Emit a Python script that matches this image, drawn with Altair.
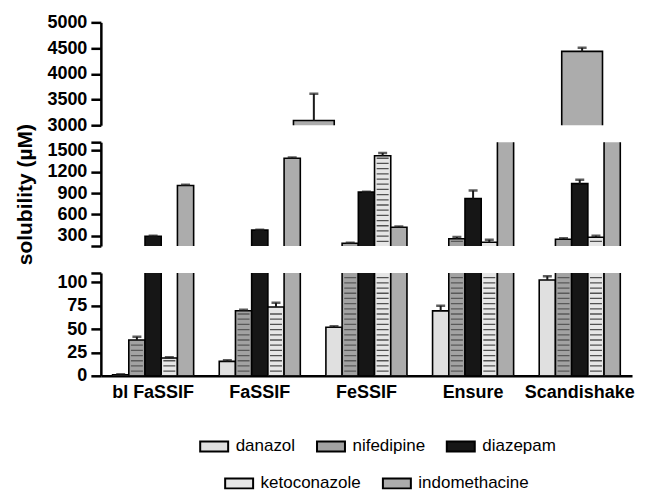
import altair as alt
import pandas as pd

media = ["bl FaSSIF", "FaSSIF", "FeSSIF", "Ensure", "Scandishake"]
drugs = ["danazol", "nifedipine", "diazepam", "ketoconazole", "indomethacine"]

danazol = [1.0, 15.4, 52.0, 69.5, 102.5]
danazol_err = [0.6, 1.2, 1.0, 5.5, 4.0]
nifedipine = [38.3, 69.6, 194.0, 258.0, 250.0]
nifedipine_err = [3.5, 1.0, 6.0, 22.0, 14.0]
diazepam = [292.0, 378.0, 912.0, 822.0, 1032.0]
diazepam_err = [6.0, 6.0, 6.0, 112.0, 55.0]
ketoconazole = [19.0, 73.6, 1424.0, 208.0, 278.0]
ketoconazole_err = [0.8, 4.5, 38.0, 34.0, 20.0]
indomethacine = [1005.0, 1388.0, 418.0, 3090.0, 4435.0]
indomethacine_err = [12.0, 12.0, 12.0, 520.0, 72.0]

fills = ["#e0e0e0", "#a2a2a2", "#161616", "#e6e6e6", "#acacac"]

series = {
    "danazol": (danazol, danazol_err),
    "nifedipine": (nifedipine, nifedipine_err),
    "diazepam": (diazepam, diazepam_err),
    "ketoconazole": (ketoconazole, ketoconazole_err),
    "indomethacine": (indomethacine, indomethacine_err),
}

rows = []
for d in drugs:
    vals, errs = series[d]
    for m, v, e in zip(media, vals, errs):
        rows.append({"medium": m, "drug": d, "value": v, "err": e})
df = pd.DataFrame(rows)

WIDTH = 532
STRIPE_PX = 5.2
FONT = "Liberation Sans"

sym_plain = "M-2.8,-1H2.8V1H-2.8Z"
leg_common = dict(
    title=None, orient="none", direction="horizontal", symbolSize=100,
    symbolType=sym_plain, symbolStrokeColor="black", symbolStrokeWidth=2,
    labelFontSize=17, labelFont=FONT, labelColor="black", labelOffset=13,
    columnPadding=17, symbolOpacity=1,
)


def panel(lo, hi, height, ticks, hidden, show_x=False, title=None, base=0.0, legends=False):
    yscale = alt.Scale(domain=[lo, hi], zero=False, nice=False)
    if hidden:
        label_expr = " || ".join(f"datum.value == {h}" for h in hidden) + " ? '' : datum.label"
    else:
        label_expr = "datum.label"
    yaxis = alt.Axis(values=ticks, labelExpr=label_expr, title=title, tickSize=10, format="d",
                     labelPadding=4, titlePadding=11, titleFontSize=21,
                     titleFontWeight="bold", titleColor="black", titleFont=FONT)
    if show_x:
        xaxis = alt.Axis(title=None, labelAngle=0, ticks=False, labelPadding=8)
    else:
        xaxis = None
    x = alt.X("medium:N", sort=media,
              scale=alt.Scale(paddingInner=0.24, paddingOuter=0.11), axis=xaxis)
    xo = alt.XOffset("drug:N", sort=drugs, scale=alt.Scale(domain=drugs))

    src = alt.Chart(df).transform_filter(f"datum.value > {lo}")
    bar_kw = dict(clip=True, stroke="black", strokeWidth=1.6)

    layers = []
    if legends:
        first = drugs[:3]
        second = drugs[3:]
        bars1 = src.transform_filter(
            alt.FieldOneOfPredicate(field="drug", oneOf=first)
        ).transform_calculate(base=str(base)).mark_bar(**bar_kw).encode(
            x=x, xOffset=xo,
            y=alt.Y("value:Q", scale=yscale, axis=yaxis), y2="base:Q",
            fill=alt.Fill("drug:N", sort=first,
                          scale=alt.Scale(domain=first, range=fills[:3]),
                          legend=alt.Legend(values=first, legendX=105, legendY=165, **leg_common)),
        )
        bars2 = src.transform_filter(
            alt.FieldOneOfPredicate(field="drug", oneOf=second)
        ).transform_calculate(base=str(base), drug2="datum.drug").mark_bar(**bar_kw).encode(
            x=x, xOffset=xo,
            y=alt.Y("value:Q", scale=yscale, axis=yaxis), y2="base:Q",
            color=alt.Color("drug2:N", sort=second,
                            scale=alt.Scale(domain=second, range=fills[3:]),
                            legend=alt.Legend(values=second, legendX=130, legendY=202, **leg_common)),
        )
        layers += [bars1, bars2]
    else:
        bars = src.transform_calculate(base=str(base)).mark_bar(**bar_kw).encode(
            x=x, xOffset=xo,
            y=alt.Y("value:Q", scale=yscale, axis=yaxis), y2="base:Q",
            fill=alt.Fill("drug:N", scale=alt.Scale(domain=drugs, range=fills), legend=None),
        )
        layers.append(bars)

    step = (hi - lo) / height * STRIPE_PX
    stripes = src.transform_filter(
        alt.FieldOneOfPredicate(field="drug", oneOf=["nifedipine", "ketoconazole"])
    ).transform_calculate(
        s=f"sequence({lo} + {step * 0.9}, min(datum.value, {hi}) - {step * 0.45}, {step})"
    ).transform_flatten(["s"]).mark_tick(clip=True, size=12, thickness=1.3).encode(
        x=x, xOffset=xo,
        y=alt.Y("s:Q", scale=yscale, axis=yaxis),
        color=alt.condition("datum.drug == 'nifedipine'", alt.value("#3a3a3a"), alt.value("#111111")),
    )
    layers.append(stripes)

    err = src.transform_calculate(upper="datum.value + datum.err")
    rule = err.mark_rule(clip=True, strokeWidth=2, color="#1a1a1a").encode(
        x=x, xOffset=xo,
        y=alt.Y("value:Q", scale=yscale, axis=yaxis), y2="upper:Q",
    )
    cap = err.mark_tick(clip=True, size=9, thickness=2.5, color="#1a1a1a").encode(
        x=x, xOffset=xo,
        y=alt.Y("upper:Q", scale=yscale, axis=yaxis),
    )
    layers += [rule, cap]
    return alt.layer(*layers).properties(width=WIDTH, height=height)


top = panel(3000, 5000, 103, [3000, 3500, 4000, 4500, 5000], [], base=2800)
mid = panel(155, 1615, 104, [155, 300, 600, 900, 1200, 1500, 1615], [155, 1615],
            title="solubility (µM)", base=100)
bot = panel(0, 110, 103, [0, 25, 50, 75, 100, 110], [110], show_x=True, base=0, legends=True)

res = dict(fill="independent", color="independent", x="independent",
           y="independent", xOffset="independent")
upper = alt.vconcat(top, mid, spacing=17, bounds="flush").resolve_scale(**res)
chart = alt.vconcat(upper, bot, spacing=6).resolve_scale(**res).properties(
    padding={"left": 6, "top": 5, "right": 5, "bottom": 0}
).configure(font=FONT).configure_view(stroke=None).configure_axis(
    domainColor="black", domainWidth=2.5, tickColor="black", tickWidth=2.5,
    labelColor="black", labelFont=FONT, labelFontWeight="bold", labelFontSize=18,
    grid=False,
)

chart.save("out.html", embed_options={"renderer": "svg", "actions": False})
